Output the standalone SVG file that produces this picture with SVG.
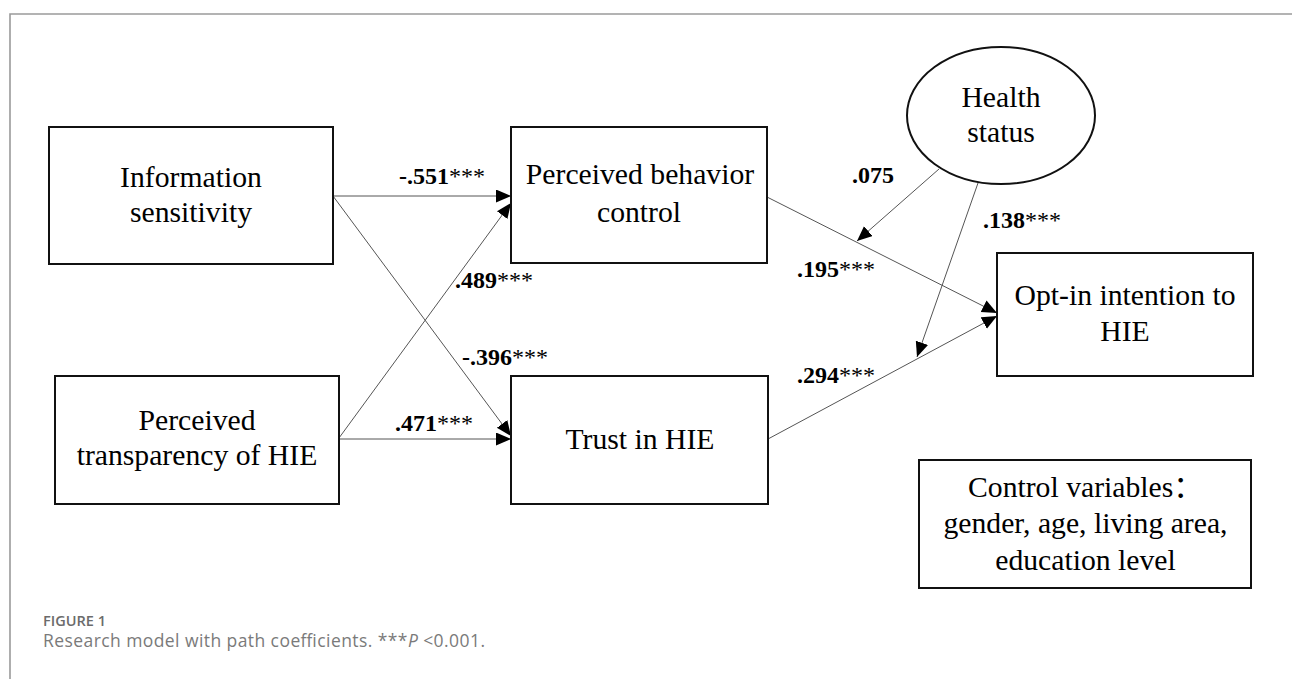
<svg xmlns="http://www.w3.org/2000/svg" width="1292" height="679" viewBox="0 0 1292 679">
<style>
.box{fill:#fff;stroke:#111;stroke-width:2}
.nt{font-family:"Liberation Serif","Times New Roman",serif;font-size:29.7px;fill:#000;text-anchor:middle}
.lb{font-family:"Liberation Serif","Times New Roman",serif;font-size:24px;font-weight:bold;fill:#000}
.lb tspan{font-weight:normal}
.cn{fill:none;stroke:#555;stroke-width:1}
.cap1{font-family:"Open Sans","Liberation Sans",sans-serif;font-size:14px;font-weight:600;fill:#6b6b6b}
.cap2{font-family:"Open Sans","Liberation Sans",sans-serif;font-size:17.5px;fill:#7a7a7a}
</style>
<defs>
<marker id="ah" markerUnits="userSpaceOnUse" markerWidth="16" markerHeight="14" refX="15" refY="6.5" orient="auto">
<path d="M0,0 L15,6.5 L0,13 z" fill="#000"/>
</marker>
</defs>
<rect width="1292" height="679" fill="#fff"/>
<path d="M10,679 V14 H1292" fill="none" stroke="#9a9a9a" stroke-width="1.6"/>

<g id="connectors">
<line class="cn" x1="333" y1="196" x2="511" y2="196" marker-end="url(#ah)"/>
<line class="cn" x1="333" y1="196" x2="511" y2="436" marker-end="url(#ah)"/>
<line class="cn" x1="339" y1="438" x2="511" y2="203" marker-end="url(#ah)"/>
<line class="cn" x1="339" y1="439" x2="511" y2="439" marker-end="url(#ah)"/>
<line class="cn" x1="767" y1="197" x2="997" y2="313" marker-end="url(#ah)"/>
<line class="cn" x1="768" y1="439" x2="997" y2="316" marker-end="url(#ah)"/>
<line class="cn" x1="939" y1="169" x2="857" y2="241" marker-end="url(#ah)"/>
<line class="cn" x1="978" y1="183" x2="917" y2="357" marker-end="url(#ah)"/>
<text class="lb" x="399" y="184">-.551<tspan>***</tspan></text>
<text class="lb" x="462" y="365">-.396<tspan>***</tspan></text>
<text class="lb" x="455" y="288">.489<tspan>***</tspan></text>
<text class="lb" x="395" y="431">.471<tspan>***</tspan></text>
<text class="lb" x="797" y="277">.195<tspan>***</tspan></text>
<text class="lb" x="797" y="383">.294<tspan>***</tspan></text>
<text class="lb" x="852" y="183">.075</text>
<text class="lb" x="983" y="228">.138<tspan>***</tspan></text>
</g>

<g id="info-sensitivity">
<rect class="box" x="49" y="127" width="284" height="137"/>
<text class="nt" x="191" y="187">Information</text>
<text class="nt" x="191" y="221.5">sensitivity</text>
</g>

<g id="perceived-transparency">
<rect class="box" x="55" y="376" width="284" height="128"/>
<text class="nt" x="197" y="429.5">Perceived</text>
<text class="nt" x="197" y="465">transparency of HIE</text>
</g>

<g id="perceived-behavior-control">
<rect class="box" x="511" y="127" width="256" height="136"/>
<text class="nt" x="640" y="183.5">Perceived behavior</text>
<text class="nt" x="639" y="221.5">control</text>
</g>

<g id="trust-in-hie">
<rect class="box" x="511" y="376" width="257" height="128"/>
<text class="nt" x="640" y="449">Trust in HIE</text>
</g>

<g id="health-status">
<ellipse class="box" cx="1001" cy="115.5" rx="94" ry="68.5"/>
<text class="nt" x="1001" y="106.5">Health</text>
<text class="nt" x="1001" y="141.5">status</text>
</g>

<g id="opt-in-intention">
<rect class="box" x="997" y="253" width="256" height="123"/>
<text class="nt" x="1125" y="305">Opt-in intention to</text>
<text class="nt" x="1125" y="341">HIE</text>
</g>

<g id="control-variables">
<rect class="box" x="919" y="460" width="332" height="128"/>
<text class="nt" x="968" y="497" style="text-anchor:start;font-family:'Liberation Serif','Noto Sans CJK SC',serif">Control variables：</text>
<text class="nt" x="1085.5" y="533">gender, age, living area,</text>
<text class="nt" x="1085.5" y="570">education level</text>
</g>

<g id="caption">
<text class="cap1" x="43" y="626" textLength="63" lengthAdjust="spacingAndGlyphs">FIGURE 1</text>
<text class="cap2" x="43" y="647" textLength="442" lengthAdjust="spacing">Research model with path coefficients. ***<tspan font-style="italic">P</tspan> &lt;0.001.</text>
</g>
</svg>
